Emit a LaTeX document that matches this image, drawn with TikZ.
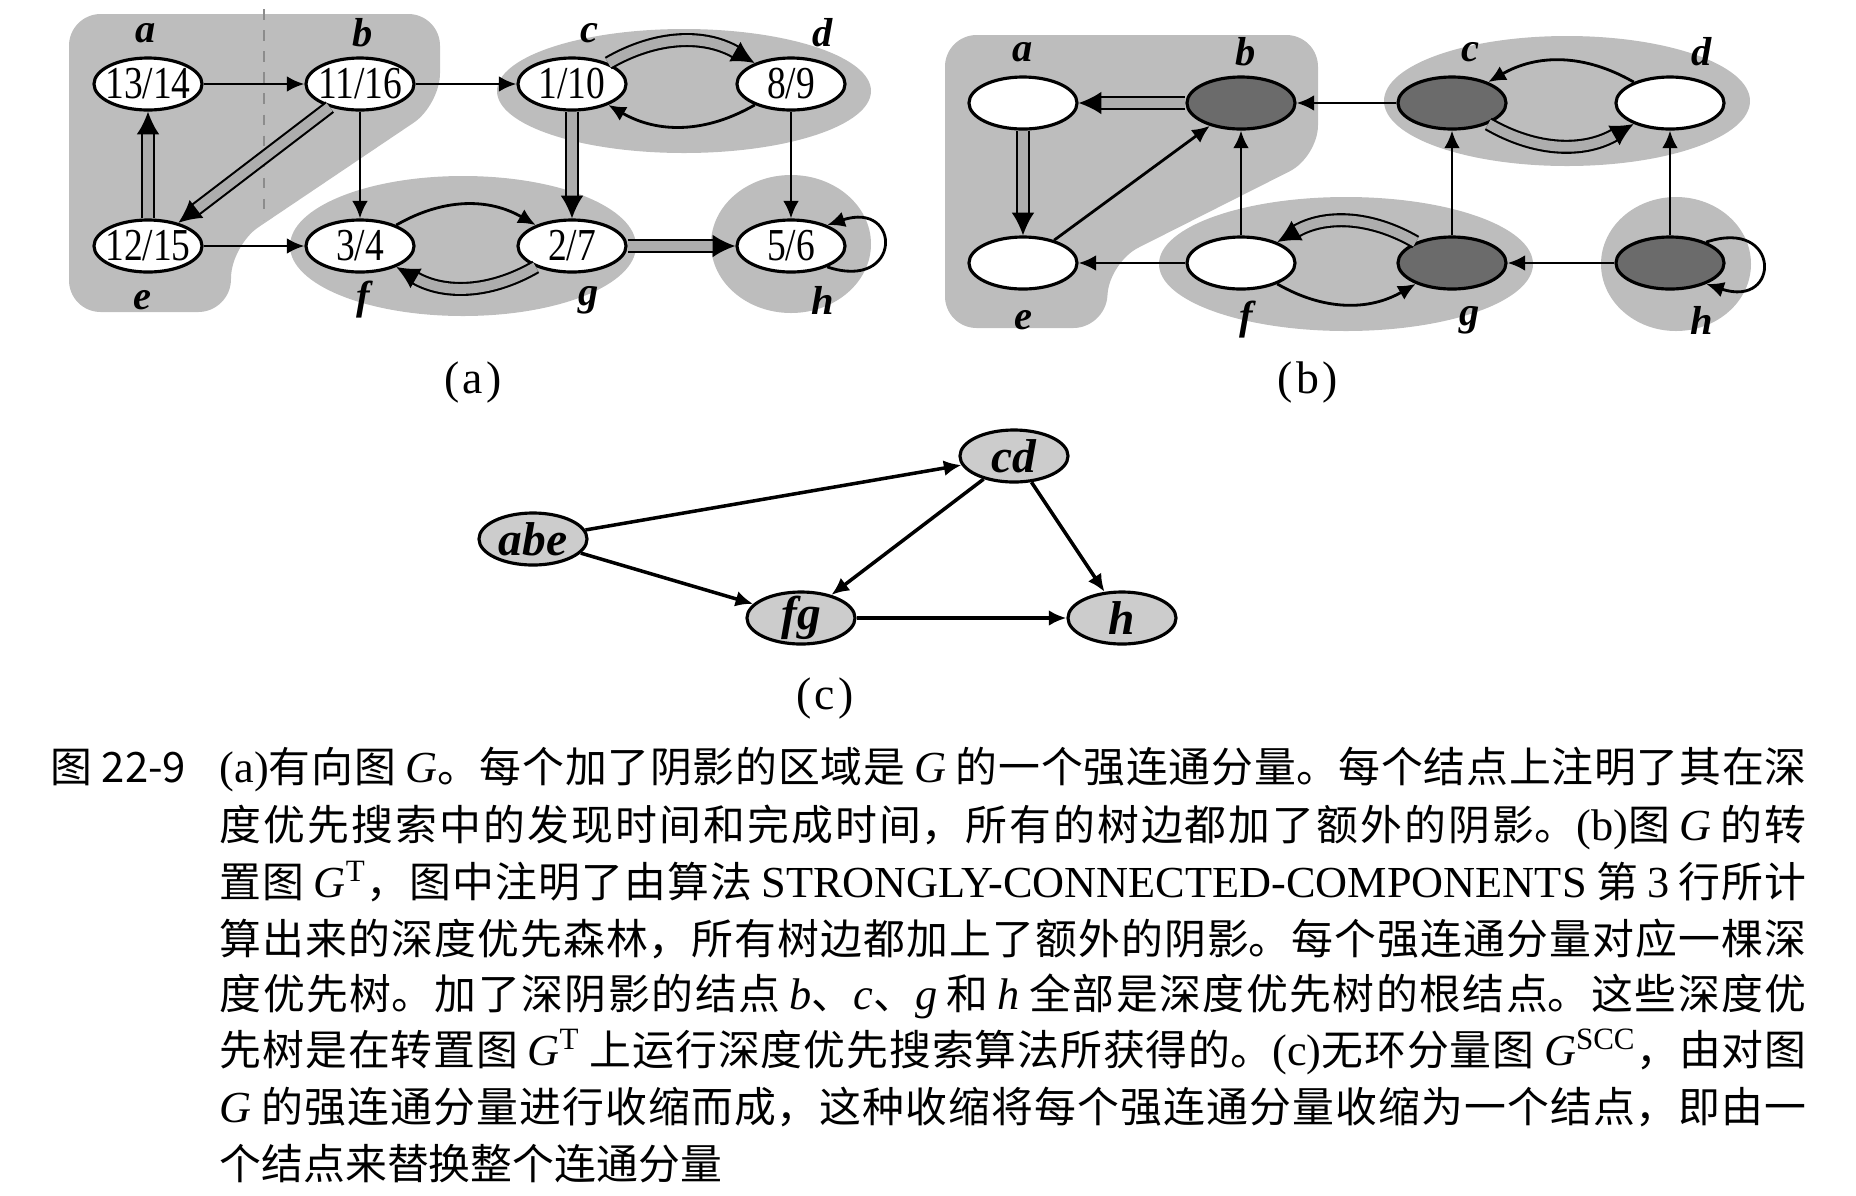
\documentclass[tikz,border=0pt]{standalone}
\usepackage{fontspec}
\setmainfont{Liberation Serif}
\newfontfamily\cjk{Noto Sans CJK SC}
\newfontfamily\numfont[FakeStretch=0.82]{Liberation Serif}
\usetikzlibrary{arrows.meta,shapes.geometric}
\XeTeXlinebreaklocale "zh"
\XeTeXlinebreakskip=0pt plus 1fil minus 0.4pt
\newlength\capw
\setlength\capw{15.86cm}
\newcommand\Lt[1]{{\rmfamily\fontsize{12.6}{14}\selectfont #1}}
\newcommand\Gi{\Lt{\itshape G}}
\newcommand\Gt{\Lt{\itshape G\textsuperscript{\upshape T}}}
\newcommand\Gscc{\Lt{\itshape G\textsuperscript{\upshape SCC}}}
\newcommand\Iv[1]{\Lt{\itshape #1}}
\newcommand\capbox[1]{\parbox[t]{\capw}{\cjk\fontsize{11.9}{14}\selectfont\tolerance=10000\parindent=0pt\parfillskip=0pt\relax #1\par}}
\begin{document}
\begin{tikzpicture}[x=0.01cm,y=0.01cm,
  vtx/.style={ellipse, draw, line width=0.9pt, minimum width=1.08cm, minimum height=0.52cm, inner sep=0pt, fill=white},
  dark/.style={fill=black!58},
  cnode/.style={vtx, fill=black!20},
  every label/.style={inner sep=0pt, font=\numfont\fontsize{13}{13}\selectfont},
  lbl/.style={inner sep=0pt, font=\fontsize{11.5}{11.5}\selectfont\bfseries\itshape},
  edge/.style={draw, line width=0.8pt, -{Latex[length=5pt,width=4.5pt]}},
  tree/.style={draw, line width=0.6pt, double=black!32, double distance=2.8pt, -{Latex[length=6.5pt,width=6.5pt]}},
  region/.style={fill=black!26},
  capl/.style={anchor=base west, inner sep=0pt},
  plab/.style={inner sep=0pt, font=\fontsize{13}{13}\selectfont},
  clab/.style={font=\fontsize{13.5}{13.5}\selectfont\bfseries\itshape},
]
\useasboundingbox (0,0) rectangle (1856,-1196);

% ---------------- panel (a) ----------------
\fill[region, rounded corners=9pt] (69,-14) -- (440,-14) -- (440,-105) -- (232,-245) -- (230,-312) -- (69,-312) -- cycle;
\fill[region] (684,-91) ellipse [x radius=187, y radius=62];
\fill[region] (463,-246) ellipse [x radius=173, y radius=70];
\fill[region] (791,-244) ellipse [x radius=80, y radius=69];
\draw[black!45, dashed, line width=0.5pt] (264,-9) -- (264,-220);

\node[vtx, label={center:13/14}] (a1) at (148,-84) {};
\node[vtx, label={center:11/16}] (b1) at (360,-84) {};
\node[vtx, label={center:1/10}]  (c1) at (572,-84) {};
\node[vtx, label={center:8/9}]   (d1) at (791,-84) {};
\node[vtx, label={center:12/15}] (e1) at (148,-246) {};
\node[vtx, label={center:3/4}]   (f1) at (360,-246) {};
\node[vtx, label={center:2/7}]   (g1) at (572,-246) {};
\node[vtx, label={center:5/6}]   (h1) at (791,-246) {};

\node[lbl] (la1) at (146,-33) {a};
\node[lbl] (lb1) at (363,-33) {b};
\node[lbl] (lc1) at (589,-33) {c};
\node[lbl] (ld1) at (823,-33) {d};
\node[lbl] (le1) at (142,-300) {e};
\node[lbl] (lf1) at (363,-300) {f};
\node[lbl] (lg1) at (589,-300) {g};
\node[lbl] (lh1) at (823,-300) {h};

\draw[edge] (a1) -- (b1);
\draw[edge] (b1) -- (c1);
\draw[edge] (b1) -- (f1);
\draw[edge] (e1) -- (f1);
\draw[edge] (d1) -- (h1);
\draw[tree] (e1) -- (a1);
\draw[tree] (b1) -- (e1);
\draw[tree] (c1) -- (g1);
\draw[tree] (g1) -- (h1);
\draw[tree] (c1.30) to[bend left=30] (d1.150);
\draw[edge] (d1.-150) to[bend left=30] (c1.-30);
\draw[edge] (f1.30) to[bend left=30] (g1.150);
\draw[tree] (g1.-150) to[bend left=30] (f1.-30);
\draw[edge] (h1.-30) .. controls +(75,-25) and +(75,25) .. (h1.30);

\node[plab] (pa) at (473,-382) {(\kern1pt a\kern1pt)};

% ---------------- panel (b) ----------------
\fill[region, rounded corners=9pt] (945,-35) -- (1318,-35) -- (1318,-157) -- (1110,-262) -- (1105,-328) -- (945,-328) -- cycle;
\fill[region] (1567,-101) ellipse [x radius=183, y radius=65];
\fill[region] (1346,-264) ellipse [x radius=187, y radius=67];
\fill[region] (1676,-264) ellipse [x radius=75, y radius=67];

\node[vtx] (a2) at (1023,-103) {};
\node[vtx, dark] (b2) at (1241,-103) {};
\node[vtx, dark] (c2) at (1452,-103) {};
\node[vtx] (d2) at (1670,-103) {};
\node[vtx] (e2) at (1023,-263) {};
\node[vtx] (f2) at (1241,-263) {};
\node[vtx, dark] (g2) at (1452,-263) {};
\node[vtx, dark] (h2) at (1670,-263) {};

\node[lbl] (la2) at (1023,-52) {a};
\node[lbl] (lb2) at (1246,-52) {b};
\node[lbl] (lc2) at (1470,-52) {c};
\node[lbl] (ld2) at (1702,-52) {d};
\node[lbl] (le2) at (1023,-320) {e};
\node[lbl] (lf2) at (1246,-320) {f};
\node[lbl] (lg2) at (1470,-320) {g};
\node[lbl] (lh2) at (1702,-320) {h};

\draw[tree] (b2) -- (a2);
\draw[tree] (a2) -- (e2);
\draw[edge] (e2) -- (b2);
\draw[edge] (f2) -- (b2);
\draw[edge] (c2) -- (b2);
\draw[edge] (g2) -- (c2);
\draw[edge] (h2) -- (d2);
\draw[edge] (f2) -- (e2);
\draw[edge] (h2) -- (g2);
\draw[edge] (d2.150) to[bend right=30] (c2.30);
\draw[tree] (c2.-30) to[bend right=30] (d2.-150);
\draw[tree] (g2.150) to[bend right=30] (f2.30);
\draw[edge] (f2.-30) to[bend right=30] (g2.-150);
\draw[edge] (h2.30) .. controls +(75,25) and +(75,-25) .. (h2.-30);

\node[plab] (pb) at (1308,-382) {(\kern1pt b\kern1pt)};

% ---------------- panel (c) ----------------
\node[cnode, label={[clab]center:abe}] (abe) at (533,-539) {};
\node[cnode, label={[clab]center:cd}] (cd) at (1014,-456) {};
\node[cnode, label={[clab]center:fg}] (fg) at (801,-618) {};
\node[cnode, label={[clab]center:h}] (hc) at (1122,-618) {};
\draw[edge, line width=1pt] (abe) -- (cd);
\draw[edge, line width=1pt] (abe) -- (fg);
\draw[edge, line width=1pt] (cd) -- (fg);
\draw[edge, line width=1pt] (cd) -- (hc);
\draw[edge, line width=1pt] (fg) -- (hc);

\node[plab] (pc) at (825,-698) {(\kern1pt c\kern1pt)};

% ---------------- caption ----------------
\node[capl] (fig) at (50,-782) {\cjk\fontsize{11.9}{14}\selectfont 图 22-9};
\node[capl] (l1) at (219,-782) {\capbox{\Lt{(a)}有向图 \Gi。每个加了阴影的区域是 \Gi\ 的一个强连通分量。每个结点上注明了其在深}};
\node[capl] (l2) at (219,-840) {\capbox{度优先搜索中的发现时间和完成时间，所有的树边都加了额外的阴影。\Lt{(b)}图 \Gi\ 的转}};
\node[capl] (l3) at (219,-897) {\capbox{置图 \Gt，图中注明了由算法 \Lt{STRONGLY-CONNECTED-COMPONENTS} 第 \Lt{3} 行所计}};
\node[capl] (l4) at (219,-954) {\capbox{算出来的深度优先森林，所有树边都加上了额外的阴影。每个强连通分量对应一棵深}};
\node[capl] (l5) at (219,-1009) {\capbox{度优先树。加了深阴影的结点 \Iv{b}、\Iv{c}、\Iv{g} 和 \Iv{h} 全部是深度优先树的根结点。这些深度优}};
\node[capl] (l6) at (219,-1065) {\capbox{先树是在转置图 \Gt\ 上运行深度优先搜索算法所获得的。\Lt{(c)}无环分量图 \Gscc，由对图}};
\node[capl] (l7) at (219,-1122) {\capbox{\Gi\ 的强连通分量进行收缩而成，这种收缩将每个强连通分量收缩为一个结点，即由一}};
\node[capl] (l8) at (219,-1179) {\cjk\fontsize{11.9}{14}\selectfont 个结点来替换整个连通分量};
\end{tikzpicture}
\end{document}
